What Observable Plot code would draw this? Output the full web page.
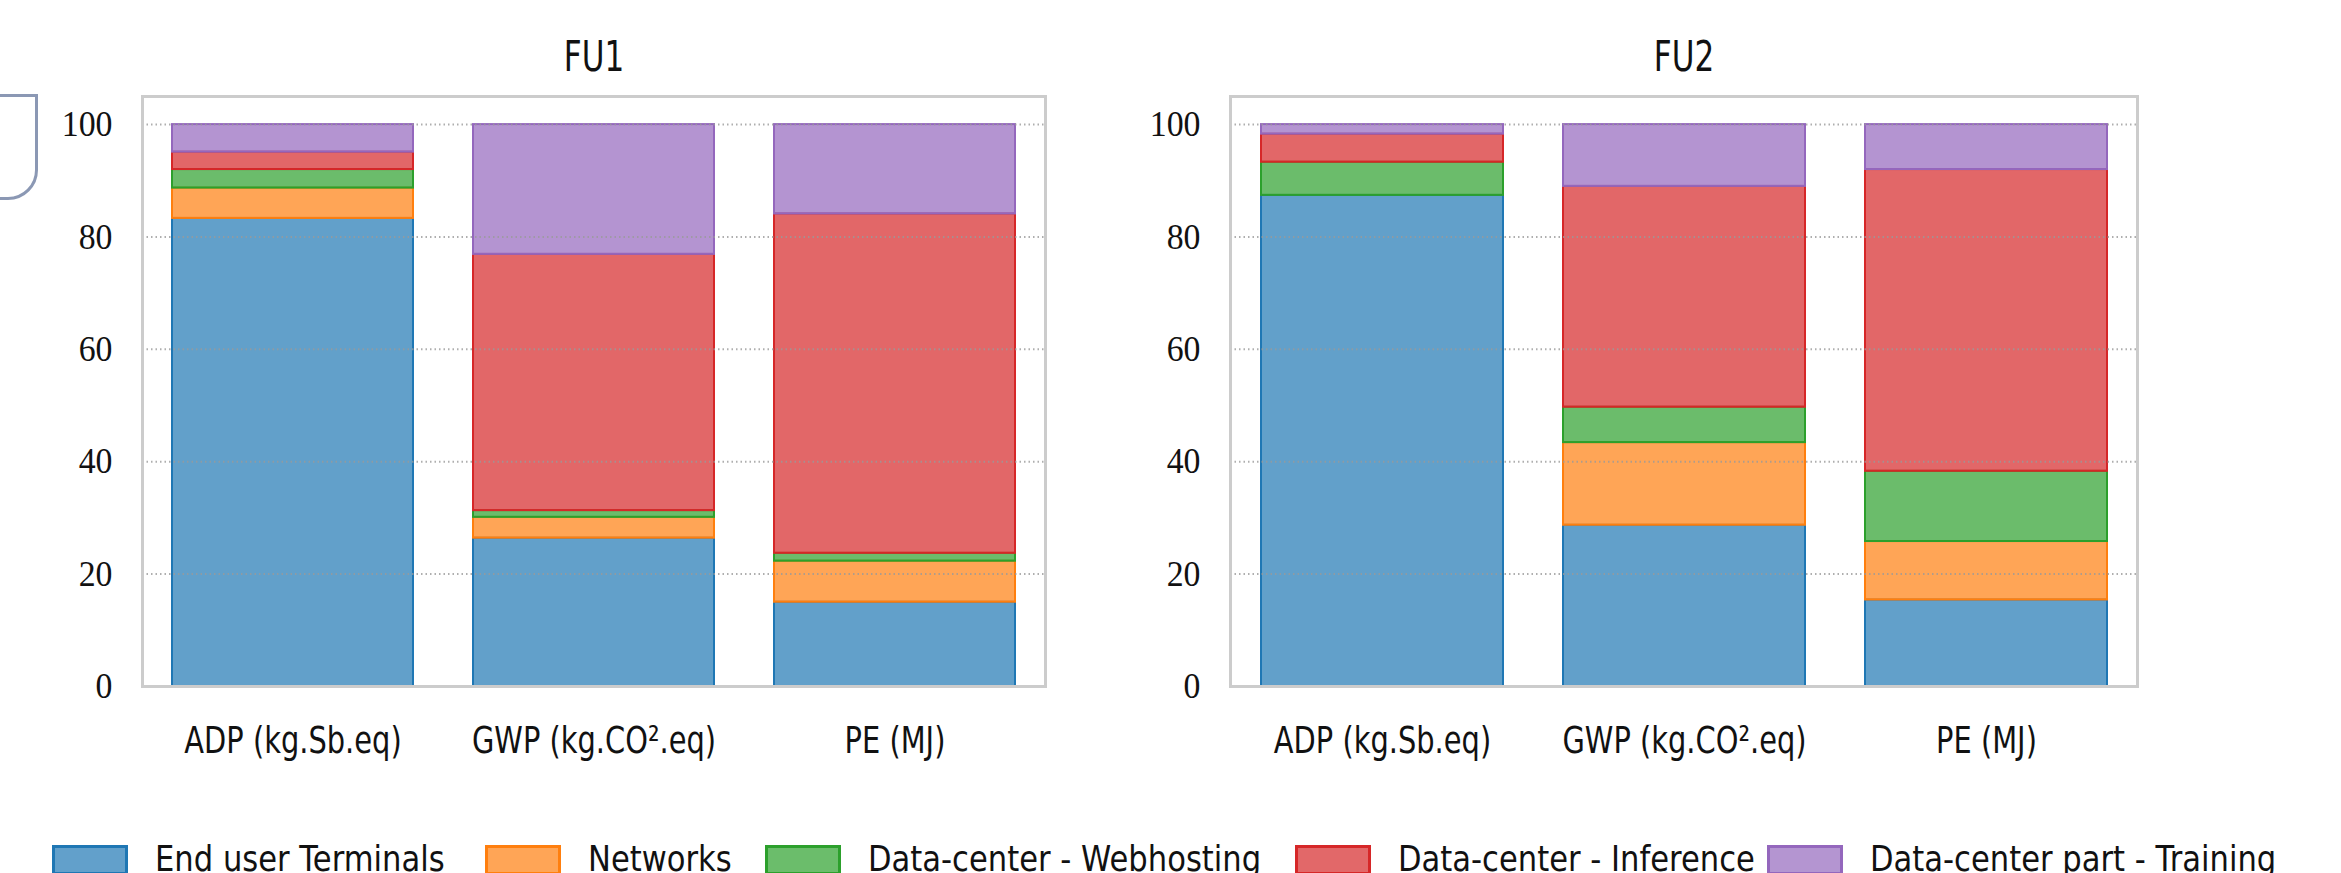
<!DOCTYPE html>
<html>
<head>
<meta charset="utf-8">
<script src="https://cdn.jsdelivr.net/npm/d3@7"></script>
<script src="https://cdn.jsdelivr.net/npm/@observablehq/plot@0.6"></script>
<style>
  html, body { margin: 0; padding: 0; background: #fff; overflow: hidden; }
  #wrap { position: relative; width: 2341px; height: 873px; overflow: hidden; }
  .panel { position: absolute; top: 0; }
  .sans { font-family: "DejaVu Sans", sans-serif; }
  .title { position: absolute; top: 57px; font-size: 42px; line-height: 42px; color: #111; white-space: nowrap; transform: translate(-50%, -50%) scaleX(0.74); }
  #legend { position: absolute; top: 841px; left: 52px; display: flex; align-items: flex-start; color: #111; font-size: 36px; line-height: 36px; white-space: nowrap; }
  .item { display: flex; align-items: flex-start; margin-right: 34px; }
  .item:nth-child(1) { margin-right: 40px; }
  .item:nth-child(4) { margin-right: 12px; }
  .sw { flex: none; width: 70px; height: 24px; border: 3px solid; margin-right: 27px; margin-top: 4px; }
  .lbl { flex: none; overflow: visible; }
  .lbl span { display: inline-block; transform: scaleX(0.85); transform-origin: 0 0; }
  #bracket { position: absolute; left: -10px; top: 94px; width: 42px; height: 100px; border: 3px solid #8b98b4; border-radius: 0 0 30px 0; }
</style>
</head>
<body>
<div id="wrap">
  <div id="bracket"></div>
  <div class="panel" id="p1" style="left:0px"></div>
  <div class="panel" id="p2" style="left:1088px"></div>
  <div id="legend" class="sans"></div>
</div>
<script>
// ---- data ----
const categories = ["ADP (kg.Sb.eq)", "GWP (kg.CO².eq)", "PE (MJ)"];
const components = ["End user Terminals", "Networks", "Data-center - Webhosting", "Data-center - Inference", "Data-center part - Training"];
const colors = ["#1f77b4", "#ff7f0e", "#2ca02c", "#d62728", "#9467bd"];
const yTicks = [0, 20, 40, 60, 80, 100];
const titles = ["FU1", "FU2"];

// FU1 shares (%) per component, in category order
const fu1Terminals = [83.3, 26.4, 15.0];
const fu1Networks  = [5.4, 3.7, 7.3];
const fu1Webhost   = [3.3, 1.2, 1.4];
const fu1Inference = [3.1, 45.6, 60.4];
const fu1Training  = [4.9, 23.1, 15.9];

// FU2 shares (%)
const fu2Terminals = [87.4, 28.7, 15.4];
const fu2Networks  = [0.0, 14.7, 10.4];
const fu2Webhost   = [5.9, 6.3, 12.5];
const fu2Inference = [5.0, 39.3, 53.7];
const fu2Training  = [1.7, 11.0, 8.0];

const sans = '"DejaVu Sans", sans-serif';

function table(series) {
  const rows = [];
  components.forEach((c, i) => categories.forEach((cat, j) => rows.push({category: cat, component: c, value: series[i][j]})));
  return rows;
}

// horizontally condense svg texts (the reference uses a narrow face)
function squeeze(sel, s) {
  sel.each(function() {
    const len = this.getComputedTextLength();
    if (len > 0) {
      this.setAttribute("textLength", (len * s).toFixed(1));
      this.setAttribute("lengthAdjust", "spacingAndGlyphs");
    }
  });
}
function condense(svg) {
  const texts = d3.select(svg).selectAll("text");
  squeeze(texts.filter(function() { return categories.includes(this.textContent); }), 0.76);
  squeeze(texts.filter(function() { return yTicks.map(String).includes(this.textContent); }), 0.94);
  return svg;
}

function panel(series, frameW) {
  const mL = 142, mR = 20;
  return Plot.plot({
    width: mL + frameW + mR,
    height: 800,
    marginLeft: mL, marginRight: mR, marginTop: 96, marginBottom: 114,
    style: {fontFamily: sans, color: "#111", background: "transparent"},
    x: {domain: categories, paddingInner: 0.2, paddingOuter: 0.1, label: null},
    y: {domain: [0, 105], label: null},
    color: {domain: components, range: colors},
    marks: [
      Plot.barY(table(series), {x: "category", y: "value", fill: "component", stroke: "component", fillOpacity: 0.7, strokeWidth: 2}),
      Plot.ruleY(yTicks.filter(t => t > 0), {stroke: "#9a9a9a", strokeOpacity: 0.8, strokeDasharray: "1.5,3", strokeWidth: 2}),
      Plot.frame({stroke: "#cccccc", strokeWidth: 3}),
      Plot.axisY(yTicks, {tickSize: 0, tickPadding: 30, fontFamily: "Liberation Serif", fontSize: 36, label: null}),
      Plot.axisX({tickSize: 0, tickPadding: 40, fontSize: 38, label: null})
    ]
  });
}

const panels = [
  [fu1Terminals, fu1Networks, fu1Webhost, fu1Inference, fu1Training],
  [fu2Terminals, fu2Networks, fu2Webhost, fu2Inference, fu2Training]
];
const frameWidths = [903, 907];
panels.forEach((series, k) => {
  const host = document.getElementById("p" + (k + 1));
  const svg = panel(series, frameWidths[k]);
  host.append(svg);
  condense(svg);
  const r = svg.scale("x").range;
  d3.select(host).append("div").attr("class", "title sans")
    .style("left", ((r[0] + r[1]) / 2) + "px").text(titles[k]);
});

const legend = d3.select("#legend");
components.forEach((c, i) => {
  const it = legend.append("div").attr("class", "item");
  const col = d3.color(colors[i]);
  const fill = d3.rgb(col.r * 0.7 + 255 * 0.3, col.g * 0.7 + 255 * 0.3, col.b * 0.7 + 255 * 0.3);
  it.append("div").attr("class", "sw").style("border-color", colors[i]).style("background", fill.formatHex());
  const lbl = it.append("div").attr("class", "lbl");
  const sp = lbl.append("span").text(c);
  lbl.style("width", sp.node().getBoundingClientRect().width + "px");
});
</script>
</body>
</html>
